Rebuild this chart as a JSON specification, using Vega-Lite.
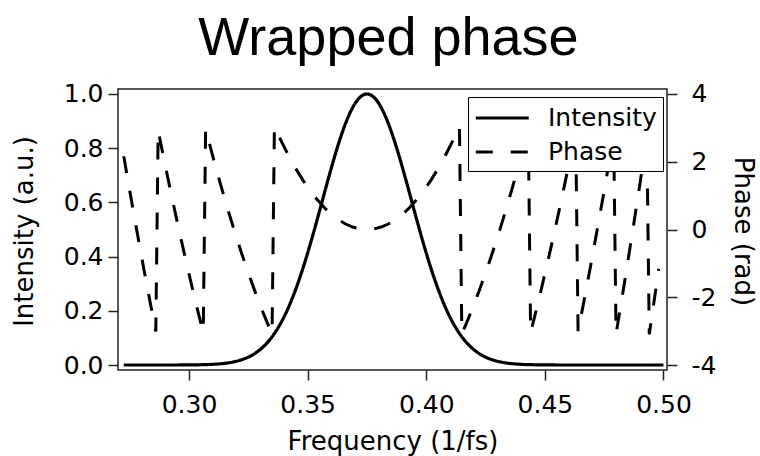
{
  "$schema": "https://vega.github.io/schema/vega-lite/v6.json",
  "width": 549,
  "height": 281,
  "autosize": {"type": "none"},
  "padding": {"left": 118, "top": 89, "right": 93, "bottom": 86},
  "background": "white",
  "title": {"text": "Wrapped phase", "font": "Liberation Sans", "fontSize": 54, "fontWeight": "normal", "color": "black", "anchor": "middle", "baseline": "alphabetic", "offset": -27, "dx": -4},
  "config": {
    "font": "DejaVu Sans",
    "view": {"stroke": "#222", "strokeWidth": 1.5},
    "axis": {"grid": false, "domain": false, "tickColor": "#222", "tickWidth": 1.5, "tickSize": 10, "labelColor": "black", "labelFont": "DejaVu Sans", "labelFontSize": 25, "titleFont": "DejaVu Sans", "titleFontSize": 26, "titleFontWeight": "normal", "titleColor": "black"}
  },
  "datasets": {
    "intensity": [
      {"f":0.2725,"I":0},{"f":0.29,"I":0},{"f":0.3,"I":0.0003},{"f":0.305,"I":0.001},{"f":0.31,"I":0.0025},{"f":0.315,"I":0.0061},{"f":0.3175,"I":0.0093},{"f":0.32,"I":0.0139},{"f":0.3225,"I":0.0203},{"f":0.325,"I":0.0291},{"f":0.3275,"I":0.0411},{"f":0.33,"I":0.057},{"f":0.3325,"I":0.0777},{"f":0.335,"I":0.104},{"f":0.3375,"I":0.1368},{"f":0.34,"I":0.1767},{"f":0.3425,"I":0.2244},{"f":0.345,"I":0.2799},{"f":0.3475,"I":0.343},{"f":0.35,"I":0.4131},{"f":0.3525,"I":0.4886},{"f":0.355,"I":0.5679},{"f":0.3575,"I":0.6484},{"f":0.36,"I":0.7274},{"f":0.3625,"I":0.8017},{"f":0.365,"I":0.8681},{"f":0.3675,"I":0.9235},{"f":0.37,"I":0.9653},{"f":0.3725,"I":0.9912},{"f":0.375,"I":1},
      {"f":0.3775,"I":0.9912},{"f":0.38,"I":0.9653},{"f":0.3825,"I":0.9235},{"f":0.385,"I":0.8681},{"f":0.3875,"I":0.8017},{"f":0.39,"I":0.7274},{"f":0.3925,"I":0.6484},{"f":0.395,"I":0.5679},{"f":0.3975,"I":0.4886},{"f":0.4,"I":0.4131},{"f":0.4025,"I":0.343},{"f":0.405,"I":0.2799},{"f":0.4075,"I":0.2244},{"f":0.41,"I":0.1767},{"f":0.4125,"I":0.1368},{"f":0.415,"I":0.104},{"f":0.4175,"I":0.0777},{"f":0.42,"I":0.057},{"f":0.4225,"I":0.0411},{"f":0.425,"I":0.0291},{"f":0.4275,"I":0.0203},{"f":0.43,"I":0.0139},{"f":0.4325,"I":0.0093},{"f":0.435,"I":0.0061},{"f":0.44,"I":0.0025},{"f":0.445,"I":0.001},{"f":0.45,"I":0.0003},{"f":0.46,"I":0},{"f":0.5,"I":0}
    ],
    "phase": [
      {"f":0.2725,"p":2.163},{"f":0.275,"p":1.15},{"f":0.278,"p":-0.032},{"f":0.281,"p":-1.178},{"f":0.284,"p":-2.288},{"f":0.286,"p":-3.008},
      {"f":0.287,"p":2.922},{"f":0.29,"p":1.884},{"f":0.293,"p":0.882},{"f":0.296,"p":-0.084},{"f":0.299,"p":-1.014},{"f":0.302,"p":-1.908},{"f":0.304,"p":-2.484},{"f":0.306,"p":-3.044},
      {"f":0.307,"p":2.965},{"f":0.31,"p":2.167},{"f":0.313,"p":1.405},{"f":0.316,"p":0.679},{"f":0.319,"p":-0.011},{"f":0.322,"p":-0.665},{"f":0.325,"p":-1.283},{"f":0.328,"p":-1.865},{"f":0.331,"p":-2.411},{"f":0.333,"p":-2.755},{"f":0.335,"p":-3.083},
      {"f":0.336,"p":3.042},{"f":0.339,"p":2.592},{"f":0.342,"p":2.178},{"f":0.345,"p":1.8},{"f":0.348,"p":1.458},{"f":0.351,"p":1.152},{"f":0.354,"p":0.882},{"f":0.357,"p":0.648},{"f":0.36,"p":0.45},{"f":0.363,"p":0.288},{"f":0.366,"p":0.162},{"f":0.369,"p":0.072},{"f":0.372,"p":0.018},{"f":0.375,"p":0},{"f":0.378,"p":0.018},{"f":0.381,"p":0.072},{"f":0.384,"p":0.162},{"f":0.387,"p":0.288},{"f":0.39,"p":0.45},{"f":0.393,"p":0.648},{"f":0.396,"p":0.882},{"f":0.399,"p":1.152},{"f":0.402,"p":1.458},{"f":0.405,"p":1.8},{"f":0.408,"p":2.178},{"f":0.411,"p":2.592},{"f":0.414,"p":3.042},
      {"f":0.415,"p":-3.083},{"f":0.417,"p":-2.755},{"f":0.419,"p":-2.411},{"f":0.422,"p":-1.865},{"f":0.425,"p":-1.283},{"f":0.428,"p":-0.665},{"f":0.431,"p":-0.011},{"f":0.434,"p":0.679},{"f":0.437,"p":1.405},{"f":0.44,"p":2.167},{"f":0.443,"p":2.965},
      {"f":0.444,"p":-3.044},{"f":0.446,"p":-2.484},{"f":0.448,"p":-1.908},{"f":0.451,"p":-1.014},{"f":0.454,"p":-0.084},{"f":0.457,"p":0.882},{"f":0.46,"p":1.884},{"f":0.463,"p":2.922},
      {"f":0.464,"p":-3.008},{"f":0.466,"p":-2.288},{"f":0.469,"p":-1.178},{"f":0.472,"p":-0.032},{"f":0.475,"p":1.15},{"f":0.477,"p":1.958},{"f":0.479,"p":2.782},
      {"f":0.48,"p":-3.083},{"f":0.482,"p":-2.235},{"f":0.484,"p":-1.371},{"f":0.486,"p":-0.491},{"f":0.488,"p":0.405},{"f":0.49,"p":1.317},{"f":0.492,"p":2.245},{"f":0.493,"p":2.715},
      {"f":0.494,"p":-3.094},{"f":0.496,"p":-2.134},{"f":0.498,"p":-1.158}
    ]
  },
  "encoding": {
    "x": {"field": "f", "type": "quantitative", "scale": {"domain": [0.27007, 0.50148], "nice": false, "zero": false},
      "axis": {"orient": "bottom", "values": [0.3, 0.35, 0.4, 0.45, 0.5], "format": ".2f", "labelPadding": 12, "title": "Frequency (1/fs)", "titleBaseline": "alphabetic", "titleY": 79, "titleAnchor": "middle"}}
  },
  "layer": [
    {
      "data": {"name": "intensity"},
      "mark": {"type": "line", "color": "black", "strokeWidth": 3.2, "interpolate": "monotone", "clip": true},
      "encoding": {
        "y": {"field": "I", "type": "quantitative", "scale": {"domain": [-0.01845, 1.01845], "nice": false, "zero": false},
          "axis": {"orient": "left", "values": [0, 0.2, 0.4, 0.6, 0.8, 1.0], "format": ".1f", "labelPadding": 5, "title": "Intensity (a.u.)", "titleAngle": 270, "titleBaseline": "alphabetic", "titleX": -86, "titleY": 142, "titleAnchor": "middle"}},
        "strokeDash": {"datum": "Intensity", "type": "nominal",
          "scale": {"domain": ["Intensity", "Phase"], "range": [[1, 0], [17, 18]]},
          "legend": {"title": null, "orient": "none", "legendX": 350, "legendY": 8, "symbolType": "M-1,0H3", "symbolSize": 702, "symbolStrokeWidth": 3, "symbolStrokeColor": "black", "labelFont": "DejaVu Sans", "labelFontSize": 25, "labelColor": "black", "labelOffset": 44, "padding": 6, "rowPadding": 6, "fillColor": "white", "strokeColor": "black"}}
      }
    },
    {
      "data": {"name": "phase"},
      "mark": {"type": "line", "color": "black", "strokeWidth": 3, "clip": true},
      "encoding": {
        "y": {"field": "p", "type": "quantitative", "scale": {"domain": [-4.1476, 4.1476], "nice": false, "zero": false},
          "axis": {"orient": "right", "values": [-4, -2, 0, 2, 4], "labelExpr": "'' + datum.value", "labelPadding": 14, "title": "Phase (rad)", "titleAngle": 90, "titleBaseline": "alphabetic", "titleX": 67, "titleY": 142, "titleAnchor": "middle"}},
        "strokeDash": {"datum": "Phase", "type": "nominal"}
      }
    }
  ],
  "resolve": {"scale": {"y": "independent"}}
}
